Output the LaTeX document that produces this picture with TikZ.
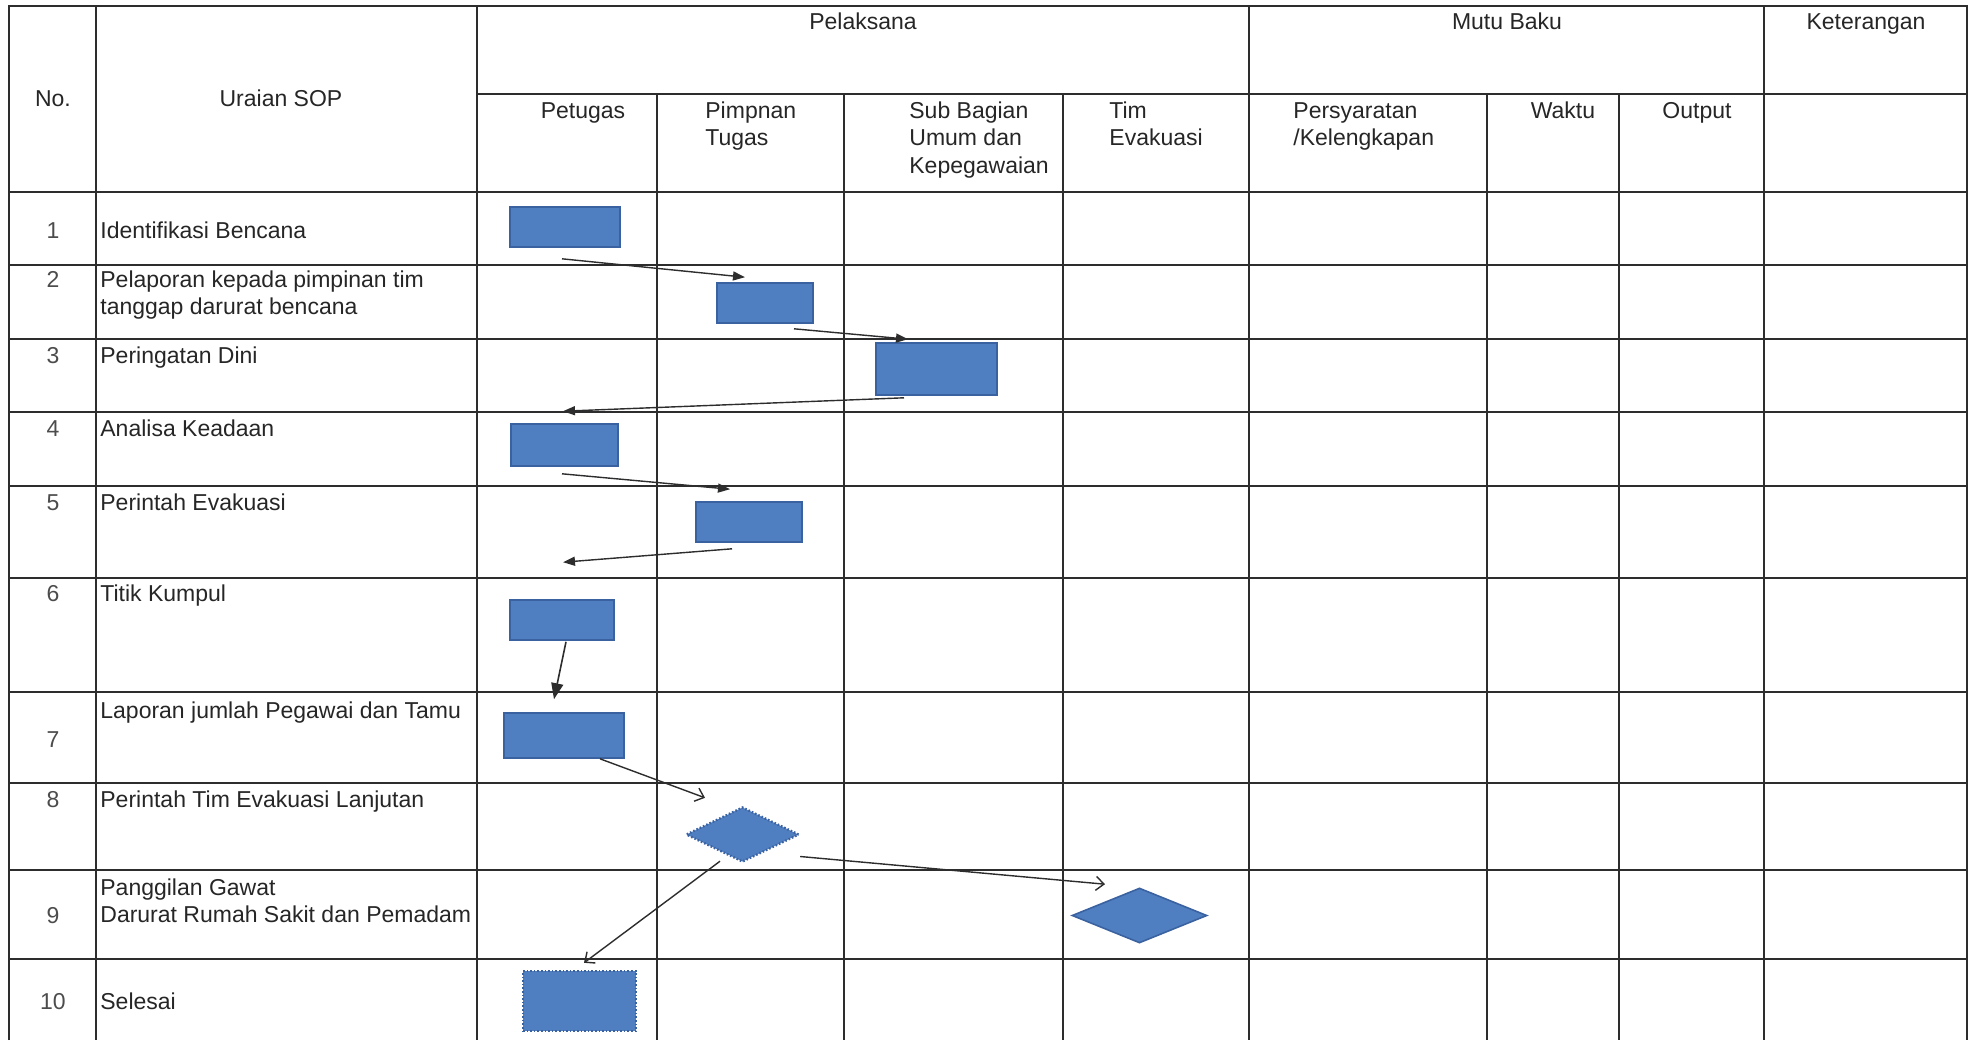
\documentclass[tikz,border=0pt]{standalone}
\usepackage{fontspec}
\setmainfont{Liberation Sans}
\usetikzlibrary{shapes.geometric,arrows.meta,calc}
\definecolor{isibiru}{RGB}{80,127,193}
\definecolor{tepibiru}{RGB}{58,98,160}
\definecolor{garisgelap}{RGB}{45,45,45}

\begin{document}
\begin{tikzpicture}[x=0.5pt,y=-0.5pt]
	\tikzstyle{garis} = [draw=garisgelap, line width=1.1pt]
	\tikzstyle{teks} = [font=\fontsize{11.5pt}{13.75pt}\selectfont, text=black!85, inner sep=0pt]
	\tikzstyle{nomor} = [teks, anchor=base, text=black!70]
	\tikzstyle{uraian} = [teks, anchor=base west, align=left]
	\tikzstyle{kotak} = [rectangle, fill=isibiru, draw=tepibiru, line width=0.8pt, inner sep=0pt]
	\tikzstyle{ketupat} = [diamond, fill=isibiru, draw=tepibiru, line width=0.8pt, inner sep=0pt]
	\tikzstyle{kasar} = [densely dotted, line width=1.2pt]
	\tikzstyle{panah} = [draw=garisgelap, line width=0.7pt, -{Triangle[length=6pt,width=4.5pt]}]
	\tikzstyle{panahbesar} = [draw=garisgelap, line width=0.8pt, -{Triangle[length=8pt,width=6pt]}]
	\tikzstyle{panahbuka} = [draw=garisgelap, line width=0.7pt, -{Straight Barb[length=4pt,width=7pt]}]
	\useasboundingbox (0,0) rectangle (1978,1040);

	% tabel
	\draw[garis] (9,1040) -- (9,6) -- (1967,6) -- (1967,1040);
	\draw[garis] (96,6) -- (96,1040) (477,6) -- (477,1040)
		(1249,6) -- (1249,1040) (1764,6) -- (1764,1040);
	\draw[garis] (657,94) -- (657,1040) (844,94) -- (844,1040) (1063,94) -- (1063,1040)
		(1487,94) -- (1487,1040) (1619,94) -- (1619,1040);
	\draw[garis] (477,94) -- (1967,94);
	\draw[garis] (9,192) -- (1967,192) (9,265) -- (1967,265) (9,339) -- (1967,339)
		(9,412) -- (1967,412) (9,486) -- (1967,486) (9,578) -- (1967,578)
		(9,692) -- (1967,692) (9,783) -- (1967,783) (9,870) -- (1967,870)
		(9,959) -- (1967,959);

	% kepala tabel (baris terakhir teks bertingkat di base)
	\node[teks, anchor=base] (hno) at (53,106) {No.};
	\node[teks, anchor=base] (hsop) at (281,106) {Uraian SOP};
	\node[teks, anchor=base] (hpel) at (863,29) {Pelaksana};
	\node[teks, anchor=base] (hmutu) at (1507,29) {Mutu Baku};
	\node[teks, anchor=base] (hket) at (1866,29) {Keterangan};
	\node[teks, anchor=base] (hpet) at (583,118) {Petugas};
	\node[uraian] (hpim) at (705,145.5) {Pimpnan\\Tugas};
	\node[uraian] (hsub) at (909,173) {Sub Bagian\\Umum dan\\Kepegawaian};
	\node[uraian] (htim) at (1109,145.5) {Tim\\Evakuasi};
	\node[uraian] (hsyarat) at (1293,145.5) {Persyaratan\\/Kelengkapan};
	\node[teks, anchor=base] (hwaktu) at (1563,118) {Waktu};
	\node[teks, anchor=base] (hout) at (1697,118) {Output};

	% baris
	\node[nomor] (n1) at (53,238) {1};
	\node[uraian] (u1) at (100,238) {Identifikasi Bencana};
	\node[nomor] (n2) at (53,287) {2};
	\node[uraian] (u2) at (100,314.5) {Pelaporan kepada pimpinan tim\\tanggap darurat bencana};
	\node[nomor] (n3) at (53,363) {3};
	\node[uraian] (u3) at (100,363) {Peringatan Dini};
	\node[nomor] (n4) at (53,436) {4};
	\node[uraian] (u4) at (100,436) {Analisa Keadaan};
	\node[nomor] (n5) at (53,510) {5};
	\node[uraian] (u5) at (100,510) {Perintah Evakuasi};
	\node[nomor] (n6) at (53,601) {6};
	\node[uraian] (u6) at (100,601) {Titik Kumpul};
	\node[nomor] (n7) at (53,747) {7};
	\node[uraian] (u7) at (100,718) {Laporan jumlah Pegawai dan Tamu};
	\node[nomor] (n8) at (53,807) {8};
	\node[uraian] (u8) at (100,807) {Perintah Tim Evakuasi Lanjutan};
	\node[nomor] (n9) at (53,923) {9};
	\node[uraian] (u9) at (100,922.5) {Panggilan Gawat\\Darurat Rumah Sakit dan Pemadam};
	\node[nomor] (n10) at (53,1009) {10};
	\node[uraian] (u10) at (100,1009) {Selesai};

	% bagan alir
	\node[kotak, minimum width=55pt, minimum height=20pt] (b1) at (565,227) {};
	\node[kotak, minimum width=48pt, minimum height=20pt] (b2) at (765,303) {};
	\node[kotak, minimum width=60.5pt, minimum height=26pt] (b3) at (936.5,369) {};
	\node[kotak, minimum width=53.5pt, minimum height=21pt] (b4) at (564.5,445) {};
	\node[kotak, minimum width=53pt, minimum height=20pt] (b5) at (749,522) {};
	\node[kotak, minimum width=52pt, minimum height=20pt] (b6) at (562,620) {};
	\node[kotak, minimum width=60pt, minimum height=22.5pt] (b7) at (564,735.5) {};
	\node[ketupat, kasar, minimum width=56.5pt, minimum height=27.5pt] (d8) at (742.5,834.5) {};
	\node[ketupat, minimum width=67.5pt, minimum height=27.5pt] (d9) at (1139.5,915.5) {};
	\node[kotak, kasar, minimum width=56.5pt, minimum height=30pt] (b10) at (579.5,1001) {};

	\draw[panah] ($(b1.south)+(-3,11)$) -- ($(b2.north)+(-20,-5)$);
	\draw[panah] ($(b2.south)+(29,5)$) -- ($(b3.north)+(-28.5,-3)$);
	\draw[panah] ($(b3.south)+(-32.5,2)$) -- ($(b4.north)+(-1.5,-12)$);
	\draw[panah] ($(b4.south)+(-2.5,7)$) -- ($(b5.north)+(-19,-12)$);
	\draw[panah] ($(b5.south)+(-17,6)$) -- ($(b6.north)+(1,-37)$);
	\draw[panahbesar] ($(b6.south)+(4,1)$) -- ($(b7.north)+(-10,-13)$);
	\draw[panahbuka] ($(b7.south)+(36,0)$) -- ($(d8.north)+(-37.5,-8)$);
	\draw[panahbuka] ($(d8.east)+(0,22)$) -- ($(d9.north)+(-34.5,-3)$);
	\draw[panahbuka] ($(d8.south)+(-22.5,-2)$) -- ($(b10.north)+(4.5,-7)$);
\end{tikzpicture}
\end{document}
